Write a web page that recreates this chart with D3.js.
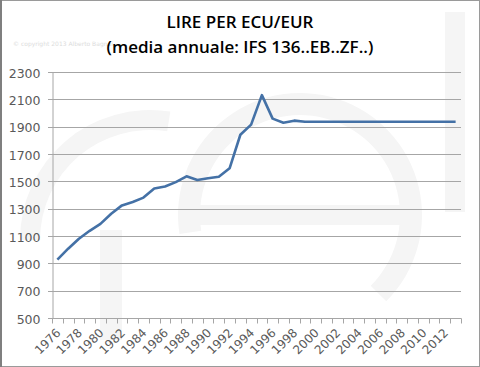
<!DOCTYPE html>
<html>
<head>
<meta charset="utf-8">
<script src="https://cdn.jsdelivr.net/npm/d3@7"></script>
<style>
  body { margin: 0; background: #fff; }
  .grid line { stroke: #a6a6a6; stroke-width: 1; }
  .tick-label { font-family: "DejaVu Sans", Verdana, sans-serif; fill: #595959; }
</style>
</head>
<body>
<div id="chart"></div>
<script>
// anni (categorie) e cambio medio annuo lire per ECU/EUR
var years = [1976, 1977, 1978, 1979, 1980, 1981, 1982, 1983, 1984, 1985,
	1986, 1987, 1988, 1989, 1990, 1991, 1992, 1993, 1994, 1995,
	1996, 1997, 1998, 1999, 2000, 2001, 2002, 2003, 2004, 2005,
	2006, 2007, 2008, 2009, 2010, 2011, 2012, 2013];
var lirePerEcu = [927, 1007, 1080, 1138, 1189, 1263, 1324, 1349, 1381, 1448,
	1462, 1494, 1537, 1510, 1522, 1533, 1595, 1841, 1915, 2131,
	1959, 1929, 1944, 1936, 1936, 1936, 1936, 1936, 1936, 1936,
	1936, 1936, 1936, 1936, 1936, 1936, 1936, 1936];
var yTicks = [500, 700, 900, 1100, 1300, 1500, 1700, 1900, 2100, 2300];
var titleLines = ["LIRE PER ECU/EUR", "(media annuale: IFS 136..EB..ZF..)"];

var W = 480, H = 367;
var plot = {left: 52, right: 461, top: 72, bottom: 318};

var svg = d3.select("#chart").append("svg")
	.attr("width", W)
	.attr("height", H);

svg.append("rect")
	.attr("x", 0.5).attr("y", 0.5)
	.attr("width", W - 1).attr("height", H - 1)
	.style("fill", "#fff")
	.style("stroke", "#9a9a9a");

svg.append("line")
	.attr("x1", 1).attr("y1", 0).attr("x2", 1).attr("y2", H)
	.style("stroke", "#7f7f7f").style("stroke-width", 2);

// watermark (logo sbiadito sullo sfondo)
var wm = svg.append("g").style("fill", "#f5f5f5");
wm.append("path")
	.attr("transform", "translate(300,215)")
	.attr("d", d3.arc()({innerRadius: 100, outerRadius: 122, startAngle: -Math.PI * 0.55, endAngle: Math.PI * 0.75}));
wm.append("rect").attr("x", 200).attr("y", 205).attr("width", 210).attr("height", 20);
wm.append("path")
	.attr("transform", "translate(150,240)")
	.attr("d", d3.arc()({innerRadius: 110, outerRadius: 130, startAngle: -Math.PI * 0.5, endAngle: Math.PI * 0.05}));
wm.append("rect").attr("x", 100).attr("y", 230).attr("width", 22).attr("height", 110);
wm.append("rect").attr("x", 445).attr("y", 12).attr("width", 20).attr("height", 200);

svg.append("text")
	.text("© copyright 2013 Alberto Bagnai")
	.attr("x", 13).attr("y", 46)
	.style("font-family", "DejaVu Sans, sans-serif")
	.style("font-size", "6px")
	.style("fill", "#dcdcdc");

var x = d3.scaleBand()
	.domain(years)
	.range([plot.left, plot.right]);

var y = d3.scaleLinear()
	.domain([500, 2300])
	.range([plot.bottom, plot.top]);

// titolo
svg.selectAll(".title")
	.data(titleLines)
	.enter().append("text")
	.attr("class", "title")
	.text(function(d) { return d; })
	.attr("x", 240)
	.attr("y", function(d, i) { return 28 + i * 25; })
	.attr("text-anchor", "middle")
	.style("font-family", "Open Sans, sans-serif")
	.style("font-weight", 600)
	.style("font-size", "17px")
	.style("fill", "#000");

// griglia orizzontale
var grid = svg.append("g").attr("class", "grid");
grid.selectAll("line")
	.data(yTicks.slice(1))
	.enter().append("line")
	.attr("x1", plot.left - 4)
	.attr("x2", plot.right)
	.attr("y1", function(d) { return Math.round(y(d)) + 0.5; })
	.attr("y2", function(d) { return Math.round(y(d)) + 0.5; });

// asse y
var yAxis = svg.append("g")
	.attr("transform", "translate(" + (plot.left + 0.5) + ",0)")
	.call(d3.axisLeft(y).tickValues(yTicks).tickFormat(d3.format("d")).tickSize(0).tickPadding(12));
yAxis.select(".domain").style("stroke", "#a6a6a6");
yAxis.selectAll("text")
	.attr("class", "tick-label")
	.style("font-size", "12.5px")
	.attr("dy", "0.4em");

// asse x
var xAxisG = svg.append("g")
	.attr("transform", "translate(0," + (Math.round(plot.bottom) + 0.5) + ")");
xAxisG.append("line")
	.attr("x1", plot.left - 4).attr("x2", plot.right + 0.5)
	.style("stroke", "#a6a6a6");
xAxisG.selectAll(".xtick")
	.data(years.concat([null]))
	.enter().append("line")
	.attr("class", "xtick")
	.attr("x1", function(d, i) { return Math.round(plot.left + i * x.bandwidth()) + 0.5; })
	.attr("x2", function(d, i) { return Math.round(plot.left + i * x.bandwidth()) + 0.5; })
	.attr("y1", 0).attr("y2", 5)
	.style("stroke", "#a6a6a6");
xAxisG.selectAll(".xlabel")
	.data(years.filter(function(d) { return d % 2 == 0; }))
	.enter().append("text")
	.attr("class", "tick-label")
	.text(function(d) { return d; })
	.attr("text-anchor", "end")
	.style("font-size", "12px")
	.attr("transform", function(d) {
		return "translate(" + (x(d) + x.bandwidth() / 2 + 4) + ",15) rotate(-45)";
	});

// serie
var line = d3.line()
	.x(function(d, i) { return x(years[i]) + x.bandwidth() / 2; })
	.y(function(d) { return y(d); });

svg.append("path")
	.datum(lirePerEcu)
	.attr("d", line)
	.style("fill", "none")
	.style("stroke", "#4471a6")
	.style("stroke-width", 2.6)
	.style("stroke-linejoin", "round");
</script>
</body>
</html>
